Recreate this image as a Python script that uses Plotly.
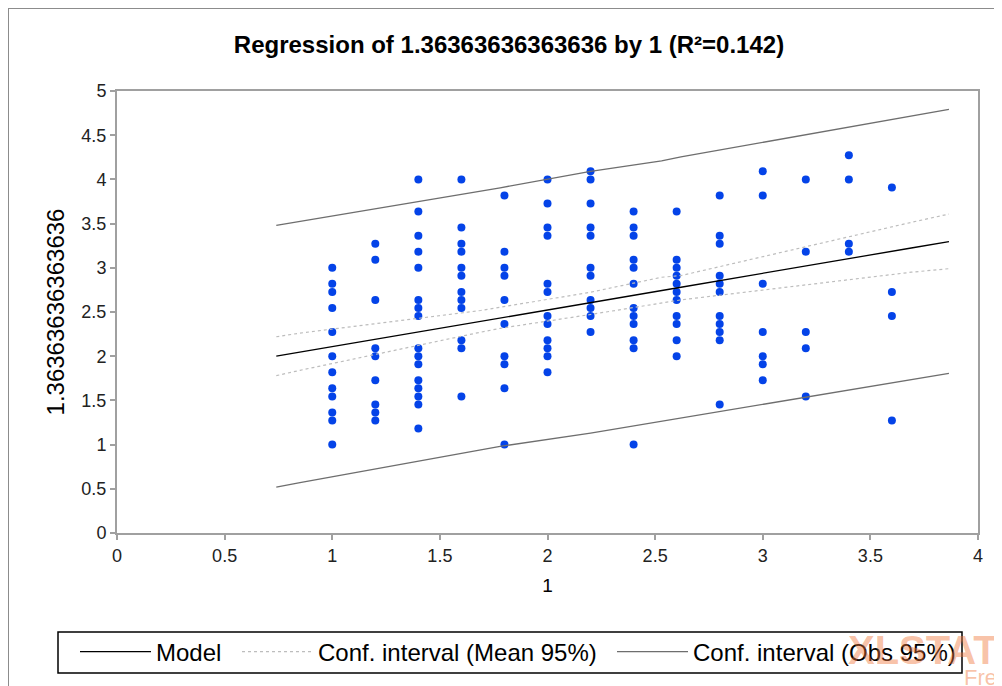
import plotly.graph_objects as go

# ---- data (scatter y values are in units of 1/11) ----
x_levels = [1.0, 1.2, 1.4, 1.6, 1.8, 2.0, 2.2, 2.4, 2.6, 2.8, 3.0, 3.2, 3.4, 3.6]
y_elevenths = [
    [33, 31, 30, 28, 25, 22, 20, 18, 17, 15, 14, 11],                 # 1.0
    [36, 34, 29, 23, 22, 19, 16, 15, 14],                             # 1.2
    [44, 40, 37, 35, 33, 29, 28, 27, 23, 22, 21, 19, 18, 17, 16, 13], # 1.4
    [44, 38, 36, 35, 33, 32, 30, 29, 28, 24, 23, 17],                 # 1.6
    [42, 35, 33, 32, 29, 26, 22, 21, 18, 11],                         # 1.8
    [44, 41, 38, 37, 31, 30, 27, 26, 24, 23, 22, 20],                 # 2.0
    [45, 44, 41, 38, 37, 33, 32, 29, 28, 27, 25],                     # 2.2
    [40, 38, 37, 34, 33, 31, 28, 27, 26, 24, 23, 11],                 # 2.4
    [40, 34, 33, 32, 31, 30, 29, 27, 26, 24, 22],                     # 2.6
    [42, 37, 36, 32, 31, 30, 27, 26, 25, 24, 16],                     # 2.8
    [45, 42, 31, 25, 22, 21, 19],                                     # 3.0
    [44, 35, 25, 23, 17],                                             # 3.2
    [47, 44, 36, 35],                                                 # 3.4
    [43, 30, 27, 14],                                                 # 3.6
]

# regression model and 95% bands at these x positions
band_x   = [0.74, 0.85, 1.69, 1.78, 2.20, 2.53, 2.62, 3.69, 3.865]
model_y  = [2.00, 2.046, 2.393, 2.43, 2.604, 2.741, 2.78, 3.224, 3.297]
mean_up  = [2.22, 2.261, 2.517, 2.554, 2.724, 2.893, 2.912, 3.514, 3.608]
mean_lo  = [1.78, 1.84, 2.272, 2.315, 2.472, 2.604, 2.637, 2.95, 2.99]
obs_up   = [3.48, 3.525, 3.863, 3.905, 4.09, 4.21, 4.255, 4.72, 4.793]
obs_lo   = [0.52, 0.57, 0.94, 0.98, 1.13, 1.264, 1.305, 1.735, 1.806]

title_text = "Regression of 1.36363636363636 by 1 (R²=0.142)"
x_title = "1"
y_title = "1.36363636363636"
legend_names = ["Model", "Conf. interval (Mean 95%)", "Conf. interval (Obs 95%)"]

xs = [xv for xv, col in zip(x_levels, y_elevenths) for _ in col]
ys = [v / 11 for col in y_elevenths for v in col]

fig = go.Figure()
fig.add_trace(go.Scatter(x=xs, y=ys, mode="markers", showlegend=False,
                         marker=dict(size=8, color="#0443E8"), hoverinfo="x+y"))
fig.add_trace(go.Scatter(x=band_x, y=model_y, mode="lines", name=legend_names[0],
                         line=dict(color="#000000", width=1.3), legend="legend"))
fig.add_trace(go.Scatter(x=band_x, y=mean_up, mode="lines", name=legend_names[1],
                         line=dict(color="#BDBDBD", width=1.2, dash="dot"), legend="legend2"))
fig.add_trace(go.Scatter(x=band_x, y=mean_lo, mode="lines", showlegend=False,
                         line=dict(color="#BDBDBD", width=1.2, dash="dot")))
fig.add_trace(go.Scatter(x=band_x, y=obs_up, mode="lines", name=legend_names[2],
                         line=dict(color="#6E6E6E", width=1.3), legend="legend3"))
fig.add_trace(go.Scatter(x=band_x, y=obs_lo, mode="lines", showlegend=False,
                         line=dict(color="#6E6E6E", width=1.3)))

OFF = 8                      # page body margin
W, H = 1002 - OFF, 686 - OFF
# plot frame in page pixels: x 117..978, y 91..533
L, R = 117 - OFF, W - (978 - OFF)
T, B = 91 - OFF, H - (533 - OFF)
pw, ph = W - L - R, H - T - B

def px(xp):                  # page x pixel -> paper
    return (xp - OFF - L) / pw

def py(yp):                  # page y pixel -> paper
    return (H - B - (yp - OFF)) / ph

def cy(yp):                  # page y pixel -> container
    return 1 - (yp - OFF) / H

axis_common = dict(showgrid=False, zeroline=False, showline=True, linecolor="#A0A0A0",
                   linewidth=2, mirror=True, ticks="outside", ticklen=5, tickcolor="#A0A0A0",
                   tickwidth=1.5, tickfont=dict(size=18, color="#222222"))

leg_common = dict(orientation="h", bgcolor="rgba(0,0,0,0)", borderwidth=0,
                  font=dict(size=24, color="#000000"), itemwidth=71,
                  yanchor="middle", xanchor="left", yref="container", y=cy(652))

fig.update_layout(
    width=W, height=H, autosize=False,
    margin=dict(l=L, r=R, t=T, b=B),
    paper_bgcolor="white", plot_bgcolor="white",
    font=dict(family="Liberation Sans, Arial, sans-serif", color="#000000"),
    title=dict(text=f"<b>{title_text}</b>", x=(509 - OFF) / W, xanchor="center",
               y=cy(45), yanchor="middle", yref="container",
               font=dict(size=24, color="#000000")),
    xaxis=dict(range=[0, 4], dtick=0.5, title=dict(text=x_title, font=dict(size=19), standoff=14),
               **axis_common),
    yaxis=dict(range=[0, 5], dtick=0.5, title=dict(text=y_title, font=dict(size=24), standoff=10),
               **axis_common),
    legend=dict(x=px(75), **leg_common),
    legend2=dict(x=px(237), **leg_common),
    legend3=dict(x=px(612), **leg_common),
    shapes=[
        dict(type="rect", xref="paper", yref="paper", x0=px(58), x1=px(962),
             y0=py(673), y1=py(632), line=dict(color="#000000", width=1.5)),
        dict(type="line", xref="paper", yref="paper", x0=px(8), x1=px(1002),
             y0=py(8), y1=py(8), line=dict(color="#8C8C8C", width=2)),
        dict(type="line", xref="paper", yref="paper", x0=px(8), x1=px(8),
             y0=py(8), y1=py(686), line=dict(color="#8C8C8C", width=2)),
    ],
    annotations=[
        dict(text="<b>XLSTAT</b>", xref="paper", yref="paper", x=px(846), y=py(650),
             xanchor="left", yanchor="middle", showarrow=False,
             font=dict(size=40, color="rgba(240,120,60,0.45)")),
        dict(text="Free", xref="paper", yref="paper", x=px(962), y=py(677),
             xanchor="left", yanchor="middle", showarrow=False,
             font=dict(size=22, color="rgba(240,120,60,0.45)")),
    ],
)

fig.write_html("out.html")
